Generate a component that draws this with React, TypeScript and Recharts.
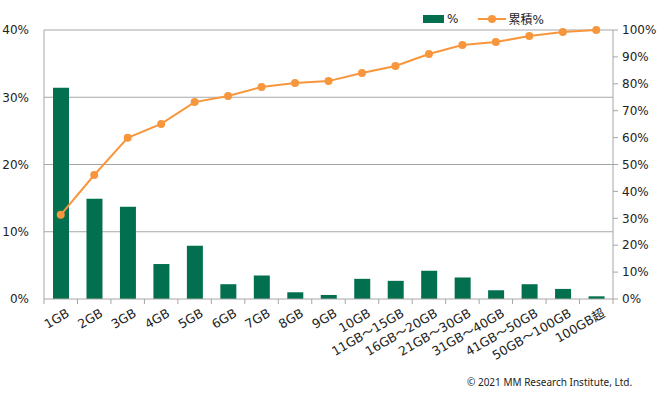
import { ComposedChart, Bar, Line, XAxis, YAxis, CartesianGrid } from 'recharts';

const categories = [
  '1GB', '2GB', '3GB', '4GB', '5GB', '6GB', '7GB', '8GB', '9GB', '10GB',
  '11GB～15GB', '16GB～20GB', '21GB～30GB', '31GB～40GB', '41GB～50GB', '50GB～100GB', '100GB超',
];
const shares = [31.4, 14.9, 13.7, 5.2, 7.9, 2.2, 3.5, 1.0, 0.6, 3.0, 2.7, 4.2, 3.2, 1.3, 2.2, 1.5, 0.4];
const cumulative = [31.3, 46.1, 59.9, 65.1, 73.2, 75.5, 78.8, 80.3, 81.0, 84.0, 86.6, 91.1, 94.4, 95.5, 97.8, 99.3, 100];
const leftTicks = [0, 10, 20, 30, 40];
const rightTicks = [0, 10, 20, 30, 40, 50, 60, 70, 80, 90, 100];

const GREEN = '#02704f';
const ORANGE = '#f7963c';
const GRID = '#a6a6a6';
const FONT = '"DejaVu Sans", "Noto Sans CJK JP", sans-serif';

const W = 665;
const H = 397;
const LEFT_W = 44;
const RIGHT_W = 52;
const BAND = (W - LEFT_W - RIGHT_W) / categories.length;

const data = categories.map((name, i) => ({ name, pct: shares[i], cum: cumulative[i] }));

function CatTick(props: any) {
  const { x, y, payload, index } = props;
  const top = y - 8;
  const last = index === categories.length - 1;
  return (
    <g>
      {/* excel-style tick marks at category boundaries */}
      <line x1={x - BAND / 2} x2={x - BAND / 2} y1={top} y2={top + 5} stroke={GRID} />
      {last && <line x1={x + BAND / 2} x2={x + BAND / 2} y1={top} y2={top + 5} stroke={GRID} />}
      <g transform={`translate(${x + 5},${y + 1})`}>
        <text x={0} y={0} dy={9} textAnchor="end" transform="rotate(-30)" fill="#222" fontSize={12.5} fontFamily={FONT}>
          {payload.value}
        </text>
      </g>
    </g>
  );
}

export default function App() {
  return (
    <div style={{ position: 'absolute', left: 0, top: 0, width: W, height: H, background: '#fff', fontFamily: FONT }}>
      <ComposedChart width={W} height={H} data={data} margin={{ top: 30, right: 0, bottom: 0, left: 0 }}>
        <CartesianGrid yAxisId="left" vertical={false} stroke={GRID} horizontalValues={[10, 20, 30, 40]} />
        <XAxis
          dataKey="name"
          height={98}
          interval={0}
          axisLine={{ stroke: GRID }}
          tickLine={false}
          tick={<CatTick />}
        />
        <YAxis
          yAxisId="left"
          domain={[0, 40]}
          ticks={leftTicks}
          width={LEFT_W}
          axisLine={{ stroke: GRID }}
          tickLine={false}
          tickMargin={9}
          tickFormatter={(v: number) => `${v}%`}
          tick={{ fill: '#222', fontSize: 12, fontFamily: FONT }}
        />
        <YAxis
          yAxisId="right"
          orientation="right"
          domain={[0, 100]}
          ticks={rightTicks}
          width={RIGHT_W}
          axisLine={{ stroke: GRID }}
          tickLine={{ stroke: GRID }}
          tickSize={5}
          tickMargin={4}
          tickFormatter={(v: number) => `${v}%`}
          tick={{ fill: '#222', fontSize: 12, fontFamily: FONT }}
        />
        <Bar yAxisId="left" dataKey="pct" fill={GREEN} barSize={16} isAnimationActive={false} />
        <Line
          yAxisId="right"
          dataKey="cum"
          stroke={ORANGE}
          strokeWidth={2}
          dot={{ r: 4, fill: ORANGE, stroke: ORANGE, strokeWidth: 0 }}
          isAnimationActive={false}
        />
      </ComposedChart>

      <div style={{ position: 'absolute', left: 423, top: 10, display: 'flex', alignItems: 'center', fontSize: 12, color: '#222' }}>
        <span style={{ display: 'inline-block', width: 21, height: 8, background: GREEN, marginRight: 3 }} />
        <span>%</span>
        <svg width={28} height={10} style={{ marginLeft: 20, marginRight: 2 }}>
          <line x1={0} y1={5} x2={28} y2={5} stroke={ORANGE} strokeWidth={2} />
          <circle cx={14} cy={5} r={4} fill={ORANGE} />
        </svg>
        <span>累積%</span>
      </div>

      <div style={{ position: 'absolute', left: 467, top: 375, fontSize: 10, color: '#222', whiteSpace: 'nowrap', fontFamily: '"Noto Sans", sans-serif' }}>
        © 2021 MM Research Institute, Ltd.
      </div>
    </div>
  );
}
